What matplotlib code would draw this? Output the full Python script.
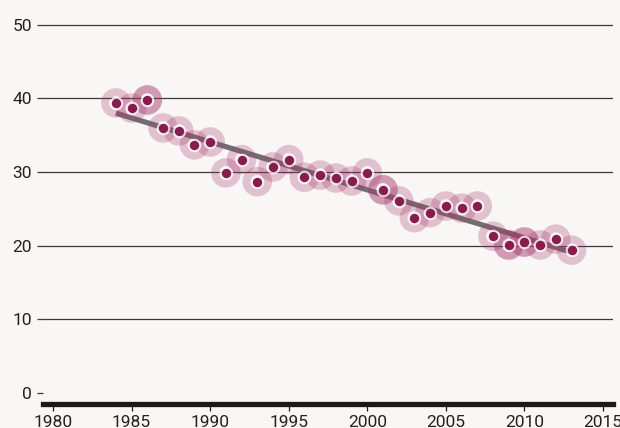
import numpy as np
import matplotlib
matplotlib.use("Agg")
import matplotlib.pyplot as plt

years = [1984, 1985, 1986, 1987, 1988, 1989, 1990, 1991, 1992, 1993,
         1994, 1995, 1996, 1997, 1998, 1999, 2000, 2001, 2002, 2003,
         2004, 2005, 2006, 2007, 2008, 2009, 2010, 2011, 2012, 2013]
values = [39.4, 38.7, 39.8, 36.0, 35.6, 33.7, 34.1, 29.9, 31.7, 28.7,
          30.7, 31.7, 29.3, 29.6, 29.2, 28.8, 29.9, 27.6, 26.1, 23.8,
          24.5, 25.4, 25.1, 25.4, 21.3, 20.1, 20.5, 20.1, 20.9, 19.4]
highlight = [1986, 2001, 2009, 2010]
yticks = [0, 10, 20, 30, 40, 50]
xticks = [1980, 1985, 1990, 1995, 2000, 2005, 2010, 2015]

bg = "#f8f7f5"
dot = "#8c1a50"
ring = "#a8386a"

plt.rcParams['font.family'] = ['Roboto', 'DejaVu Sans']

fig = plt.figure(figsize=(6.2, 4.28), dpi=100, facecolor=bg)
ax = fig.add_axes([43/620, (428-404)/428, 570/620, (404-5)/428])
ax.set_facecolor(bg)
ax.set_xlim(1979.36, 2015.64)
ax.set_ylim(-1.5, 52.7)

# gridlines
for v in yticks:
    if v != 0:
        ax.axhline(v, color="#3a3a3a", lw=0.9, zorder=1)

# trend line
x = np.array(years, dtype=float)
y = np.array(values)
k, b = np.polyfit(x, y, 1)
ax.plot([x[0], x[-1]], [k*x[0]+b, k*x[-1]+b], color="#707070", lw=3.8,
        solid_capstyle="butt", zorder=2)

# halos
for xi, yi in zip(years, values):
    reps = 2 if xi in highlight else 1
    for _ in range(reps):
        ax.scatter([xi], [yi], s=240, facecolors="none", edgecolors=ring,
                   linewidths=5.8, alpha=0.28, zorder=3)
    ax.scatter([xi], [yi], s=95, color="white", alpha=0.75, lw=0, zorder=4)

ax.scatter(years, values, s=46, color=dot, lw=0, zorder=5)

# axes styling
for s in ["top", "right", "left"]:
    ax.spines[s].set_visible(False)
ax.spines["bottom"].set_linewidth(3.8)
ax.spines["bottom"].set_color("#1a1a1a")
ax.set_yticks(yticks)
ax.set_xticks(xticks)
ax.tick_params(axis="y", length=4, width=0.9, color="#3a3a3a", pad=4,
               labelsize=12.5, labelcolor="#222222")
ax.tick_params(axis="x", length=5, width=0.9, color="#1a1a1a", pad=3,
               labelsize=12.5, labelcolor="#222222")

fig.savefig("out.png", dpi=100, facecolor=bg)
